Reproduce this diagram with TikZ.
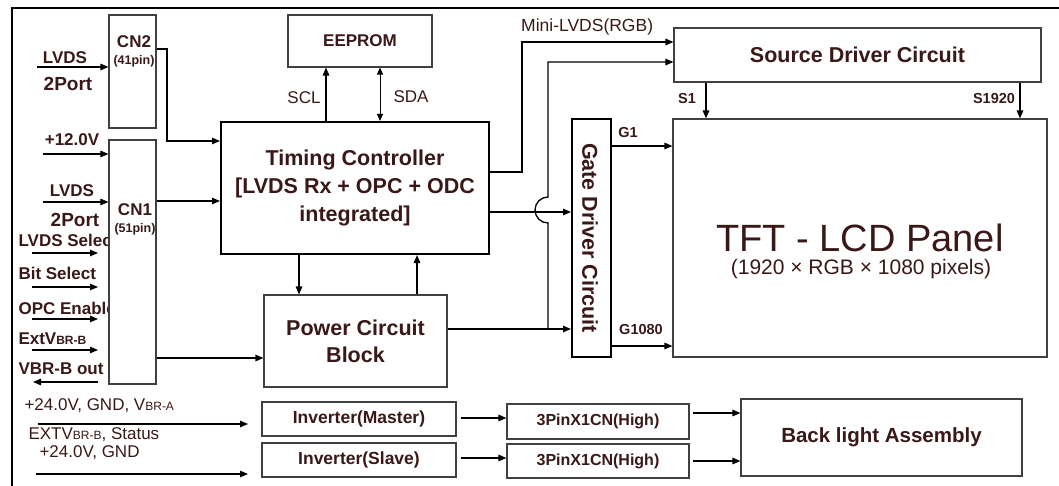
\documentclass[tikz,border=0pt]{standalone}
\usepackage{fontspec}
\setmainfont{Liberation Sans}
\usetikzlibrary{arrows.meta,positioning}
\definecolor{ink}{RGB}{58,24,24}
\newcommand{\lowtxt}[1]{{\fontsize{12}{12}\selectfont #1}}

\begin{document}
\begin{tikzpicture}[x=1pt,y=-1pt,
box/.style={draw=black!75,line width=1.1pt,fill=white,inner sep=0pt},
bbox/.style={draw=black,line width=2pt,fill=white,inner sep=0pt},
big/.style={font=\fontsize{21.5}{28}\selectfont\bfseries,text=ink,align=center},
mid/.style={font=\fontsize{17}{19}\selectfont\bfseries,text=ink,align=center},
lbl/.style={font=\fontsize{17}{19}\selectfont\bfseries,text=ink},
plain/.style={font=\fontsize{17}{19}\selectfont,text=ink},
pin/.style={font=\fontsize{14.5}{16}\selectfont\bfseries,text=ink},
arr/.style={-{Triangle[length=8pt,width=6.5pt]},line width=1.3pt},
wire/.style={line width=1.3pt}]
\useasboundingbox (0,0) rectangle (1059,486);
\draw[line width=1.5pt] (12,486) -- (12,8) -- (1059,8);

% left input labels
\node[lbl] (lvdsa) at (65,58) {LVDS};
\node[lbl,font=\fontsize{19}{21}\selectfont\bfseries] (porta) at (68,84) {2Port};
\node[lbl] (v12) at (72,140) {+12.0V};
\node[lbl] (lvdsb) at (72,191) {LVDS};
\node[lbl,font=\fontsize{19}{21}\selectfont\bfseries] (portb) at (75,220) {2Port};
\node[lbl,anchor=west] (lsel) at (15,240) {LVDS Select};
\node[lbl,anchor=west] (bsel) at (15,273) {Bit Select};
\node[lbl,anchor=west] (opc) at (15,308) {OPC Enable};
\node[lbl,anchor=west] (extv) at (15,339) {ExtV\lowtxt{BR-B}};
\node[lbl,anchor=west] (vout) at (15,369) {VBR-B out};

% connectors
\node[box,minimum width=47pt,minimum height=113pt] (cn2) at (132.5,71.5) {};
\node[mid,align=center] (cn2txt) at (134,51) {CN2\\[-2pt]{\fontsize{12.5}{13}\selectfont(41pin)}};
\node[box,minimum width=47pt,minimum height=244pt] (cn1) at (132.5,262) {};
\node[mid,align=center] (cn1txt) at (135,219) {CN1\\[-2pt]{\fontsize{12.5}{13}\selectfont(51pin)}};

% main blocks
\node[box,mid,minimum width=144pt,minimum height=52pt] (eeprom) at (360,41) {EEPROM};
\node[bbox,big,minimum width=268pt,minimum height=132pt] (tcon) at (355,188)
  {Timing Controller\\{[}LVDS Rx + OPC + ODC\\integrated{]}};
\node[box,big,minimum width=183pt,minimum height=92pt,font=\fontsize{21.5}{27}\selectfont\bfseries] (power) at (355.5,341) {Power Circuit\\Block};
\node[box,big,minimum width=367pt,minimum height=54pt] (source) at (857.5,55) {Source Driver Circuit};
\node[box,minimum width=374pt,minimum height=238pt] (tft) at (860,238) {};
\node[text=ink,font=\fontsize{38}{40}\selectfont] (tfttxt) at (860,238) {TFT - LCD Panel};
\node[plain,font=\fontsize{21}{23}\selectfont] (tftres) at (861,269) {(1920 × RGB × 1080 pixels)};
\node[bbox,minimum width=39pt,minimum height=238pt] (gate) at (591.5,238) {};
\node[big,rotate=-90] (gatetxt) at (590,238) {Gate Driver Circuit};

% backlight chain
\node[box,mid,minimum width=194pt,minimum height=34pt,font=\fontsize{17.5}{19}\selectfont\bfseries] (invm) at (359,419) {Inverter(Master)};
\node[box,mid,minimum width=194pt,minimum height=34pt,font=\fontsize{17.5}{19}\selectfont\bfseries] (invs) at (359,460) {Inverter(Slave)};
\node[box,mid,minimum width=182pt,minimum height=35pt,font=\fontsize{16}{18}\selectfont\bfseries] (pinm) at (598,421.5) {3PinX1CN(High)};
\node[box,mid,minimum width=182pt,minimum height=34pt,font=\fontsize{16}{18}\selectfont\bfseries] (pins) at (598,461) {3PinX1CN(High)};
\node[box,big,minimum width=281pt,minimum height=77pt,font=\fontsize{20.5}{24}\selectfont\bfseries] (bla) at (881.5,437.5) {Back light Assembly};

% inputs to connectors
\coordinate (lvdsa in) at (37,67);
\draw[arr] (lvdsa in) -- (lvdsa in -| cn2.west);
\coordinate (v12 in) at (43,154);
\draw[arr] (v12 in) -- (v12 in -| cn1.west);
\coordinate (lvdsb in) at (43,202);
\draw[arr] (lvdsb in) -- (lvdsb in -| cn1.west);
\foreach \n/\y in {lsel/253,bsel/287,opc/319,extv/350}{
  \coordinate (\n a) at (32,\y);
  \coordinate (\n b) at (98,\y);
  \draw[arr] (\n a) -- (\n b);
}
\coordinate (vout a) at (98,382);
\coordinate (vout b) at (33,382);
\draw[arr] (vout a) -- (vout b);

% connector outputs
\draw[arr] (cn2.east |- 0,49) -| (167,141) -- (tcon.west |- 0,141);
\draw[arr] (cn1.east |- 0,201) -- (tcon.west |- 0,201);
\draw[arr] (cn1.east |- 0,358) -- (power.west |- 0,358);

% eeprom bus
\draw[arr] (tcon.north -| 326,0) -- (eeprom.south -| 326,0);
\draw[{Triangle[length=7pt,width=6pt]}-{Triangle[length=7pt,width=6pt]},line width=1pt] (tcon.north -| 380,0) -- (eeprom.south -| 380,0);
\node[plain] (scl) at (304,98) {SCL};
\node[plain] (sda) at (411,97) {SDA};

% timing controller and power
\draw[arr] (tcon.south -| 299,0) -- (power.north -| 299,0);
\draw[arr] (power.north -| 417,0) -- (tcon.south -| 417,0);

% to source driver
\draw[arr] (tcon.east |- 0,172) -| (522,42) -- (source.west |- 0,42);
\node[plain,anchor=south west,inner sep=0pt,font=\fontsize{17.5}{19}\selectfont] (minilvds) at (521,35) {Mini-LVDS(RGB)};
\coordinate (jn) at (548,329);
\draw[arr] (jn) -- (548,223) arc[start angle=90,end angle=270,radius=13] -- (548,62) -- (source.west |- 0,62);

% to gate driver
\draw[arr] (tcon.east |- 0,212) -- (gate.west |- 0,212);
\draw[arr] (power.east |- 0,329) -- (gate.west |- 0,329);

% gate and source lines
\draw[arr] (gate.east |- 0,146) -- (tft.west |- 0,146);
\node[pin] (g1) at (628,133) {G1};
\draw[arr] (gate.east |- 0,346) -- (tft.west |- 0,346);
\node[pin] (g1080) at (641,330) {G1080};
\draw[arr] (source.south -| 706,0) -- (tft.north -| 706,0);
\node[pin] (s1) at (687,99) {S1};
\draw[arr] (source.south -| 1020,0) -- (tft.north -| 1020,0);
\node[pin] (s1920) at (994,99) {S1920};

% backlight inputs
\node[plain,anchor=west] (bl24a) at (21,406) {+24.0V, GND, V\lowtxt{BR-A}};
\node[plain,anchor=west] (blext) at (25,435) {EXTV\lowtxt{BR-B}, Status};
\node[plain,anchor=west] (bl24b) at (36,453) {+24.0V, GND};
\coordinate (invm in) at (38,424);
\draw[arr] (invm in) -- (248,424);
\coordinate (invs in) at (36,474);
\draw[arr] (invs in) -- (248,474);
\draw[arr,shorten <=4pt] (invm.east |- 0,418) -- (pinm.west |- 0,418);
\draw[arr,shorten <=4pt] (invs.east |- 0,458) -- (pins.west |- 0,458);
\draw[arr,shorten <=3pt] (pinm.east |- 0,413) -- (bla.west |- 0,413);
\draw[arr,shorten <=3pt] (pins.east |- 0,461) -- (bla.west |- 0,461);
\end{tikzpicture}
\end{document}
